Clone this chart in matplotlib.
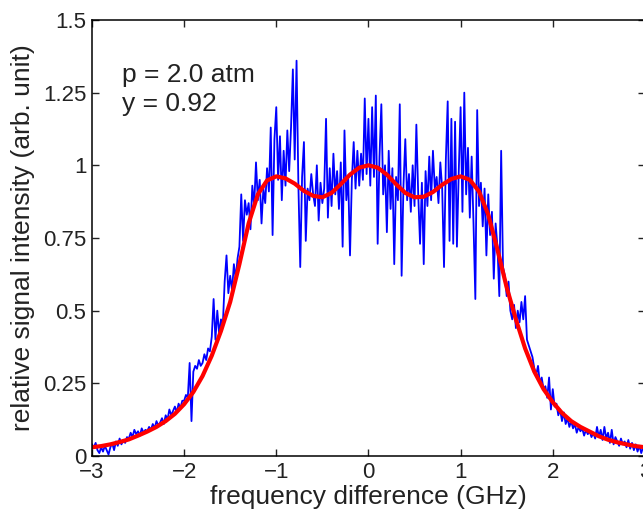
import numpy as np
import matplotlib
matplotlib.use('Agg')
import matplotlib.pyplot as plt

# measured signal, sampled every 0.02 GHz from -3 to 3 GHz
signal = [
    0.04, 0.03, 0.045, 0.02, 0.01, 0.03, 0.015, 0.035, 0.02, 0.005,
    0.03, 0.045, 0.02, 0.05, 0.035, 0.06, 0.04, 0.055, 0.045, 0.065,
    0.06, 0.08, 0.065, 0.09, 0.075, 0.085, 0.07, 0.095, 0.08, 0.09,
    0.085, 0.10, 0.09, 0.11, 0.095, 0.12, 0.105, 0.115, 0.13, 0.11,
    0.14, 0.125, 0.16, 0.14, 0.155, 0.17, 0.15, 0.18, 0.165, 0.19,
    0.19, 0.21, 0.20, 0.32, 0.12, 0.29, 0.31, 0.30, 0.33, 0.31,
    0.32, 0.35, 0.33, 0.37, 0.36, 0.41, 0.54, 0.40, 0.50, 0.42,
    0.47, 0.45, 0.60, 0.69, 0.56, 0.62, 0.57, 0.66, 0.61, 0.68,
    0.72, 0.90, 0.74, 0.88, 0.83, 0.87, 0.78, 0.93, 0.86, 1.01,
    0.88, 0.95, 0.80, 0.92, 0.87, 0.99, 0.91, 1.13, 0.76, 1.09,
    1.20, 0.95, 1.10, 0.88, 1.05, 0.93, 1.12, 0.98, 1.13, 1.33,
    1.02, 1.36, 0.93, 0.65, 0.96, 1.08, 0.74, 0.92, 0.88, 0.97,
    0.90, 0.86, 1.00, 0.81, 0.94, 0.87, 0.92, 1.16, 0.82, 0.99,
    0.86, 1.04, 0.90, 0.98, 0.85, 1.01, 0.72, 1.12, 0.88, 0.96,
    0.69, 0.95, 1.08, 0.92, 1.05, 0.93, 1.04, 0.95, 1.23, 0.97,
    1.16, 0.93, 1.20, 0.96, 1.24, 0.73, 1.03, 1.21, 0.90, 1.00,
    0.77, 1.05, 0.85, 0.99, 0.66, 0.96, 0.88, 1.21, 0.62, 0.93,
    1.09, 0.88, 0.97, 0.84, 1.00, 0.86, 1.14, 0.90, 0.73, 0.94,
    0.66, 0.98, 0.86, 1.03, 0.88, 1.05, 0.92, 0.96, 0.87, 1.01,
    0.92, 0.65, 1.02, 1.22, 0.74, 1.16, 0.73, 1.15, 0.72, 0.98,
    1.20, 0.84, 1.25, 0.90, 1.06, 0.82, 1.03, 0.80, 0.54, 1.19,
    0.86, 0.94, 0.79, 0.92, 0.69, 0.90, 0.76, 0.84, 0.61, 0.80,
    0.72, 0.55, 1.05, 0.65, 0.62, 0.55, 0.60, 0.50, 0.47, 0.52,
    0.44, 0.50, 0.46, 0.53, 0.47, 0.55, 0.40, 0.38, 0.36, 0.34,
    0.30, 0.28, 0.31, 0.25, 0.27, 0.23, 0.24, 0.20, 0.27, 0.16,
    0.23, 0.17, 0.18, 0.14, 0.16, 0.12, 0.15, 0.11, 0.13, 0.10,
    0.12, 0.095, 0.11, 0.08, 0.10, 0.085, 0.095, 0.07, 0.09, 0.075,
    0.085, 0.065, 0.08, 0.06, 0.10, 0.065, 0.09, 0.055, 0.10, 0.06,
    0.08, 0.045, 0.09, 0.04, 0.065, 0.05, 0.035, 0.06, 0.04, 0.05,
    0.03, 0.055, 0.025, 0.045, 0.02, 0.04, 0.015, 0.035, 0.01, 0.03,
    0.02,
]

# fitted profile, every 0.1 GHz from -3 to 3 GHz
fit = [
    0.03, 0.034, 0.04, 0.048, 0.057, 0.07, 0.084, 0.10, 0.12, 0.145,
    0.178, 0.22, 0.275, 0.345, 0.43, 0.53, 0.66, 0.80, 0.90, 0.948,
    0.962, 0.955, 0.937, 0.912, 0.895, 0.89, 0.905, 0.935, 0.968, 0.992,
    1.0,
    0.992, 0.968, 0.935, 0.905, 0.89, 0.892, 0.908, 0.933, 0.953, 0.962,
    0.95, 0.91, 0.83, 0.71, 0.58, 0.47, 0.37, 0.29, 0.23, 0.185,
    0.148, 0.12, 0.10, 0.084, 0.068, 0.056, 0.047, 0.04, 0.034, 0.03,
]

xticks = [-3, -2, -1, 0, 1, 2, 3]
yticks = [0, 0.25, 0.5, 0.75, 1, 1.25, 1.5]
ytick_labels = ['0', '0.25', '0.5', '0.75', '1', '1.25', '1.5']

plt.rcParams['font.family'] = ['Liberation Sans', 'DejaVu Sans']

fig = plt.figure(figsize=(6.43, 5.15), dpi=100)
ax = fig.add_axes([0.143, 0.1146, 0.860, 0.8466])

f_sig = np.linspace(-3, 3, len(signal))
f_fit = np.linspace(-3, 3, len(fit))
ax.plot(f_sig, signal, color='#0000ff', lw=1.3)
ax.plot(f_fit, fit, color='#ff0000', lw=3)

ax.set_xlim(-3, 3)
ax.set_ylim(0, 1.5)
ax.set_xticks(xticks)
ax.set_yticks(yticks)
ax.set_yticklabels(ytick_labels)
ax.tick_params(direction='in', length=5, width=1, labelsize=16,
               top=True, right=True, colors='#222222', pad=4)
for s in ax.spines.values():
    s.set_linewidth(1.1)

ax.set_xlabel('frequency difference (GHz)', fontsize=19, color='#222222', labelpad=2)
ax.set_ylabel('relative signal intensity (arb. unit)', fontsize=19, color='#222222', labelpad=6)

ax.text(-2.67, 1.31, 'p = 2.0 atm', fontsize=19, color='#222222', va='center')
ax.text(-2.67, 1.21, 'y = 0.92', fontsize=19, color='#222222', va='center')

plt.savefig('out.png', dpi=100)
